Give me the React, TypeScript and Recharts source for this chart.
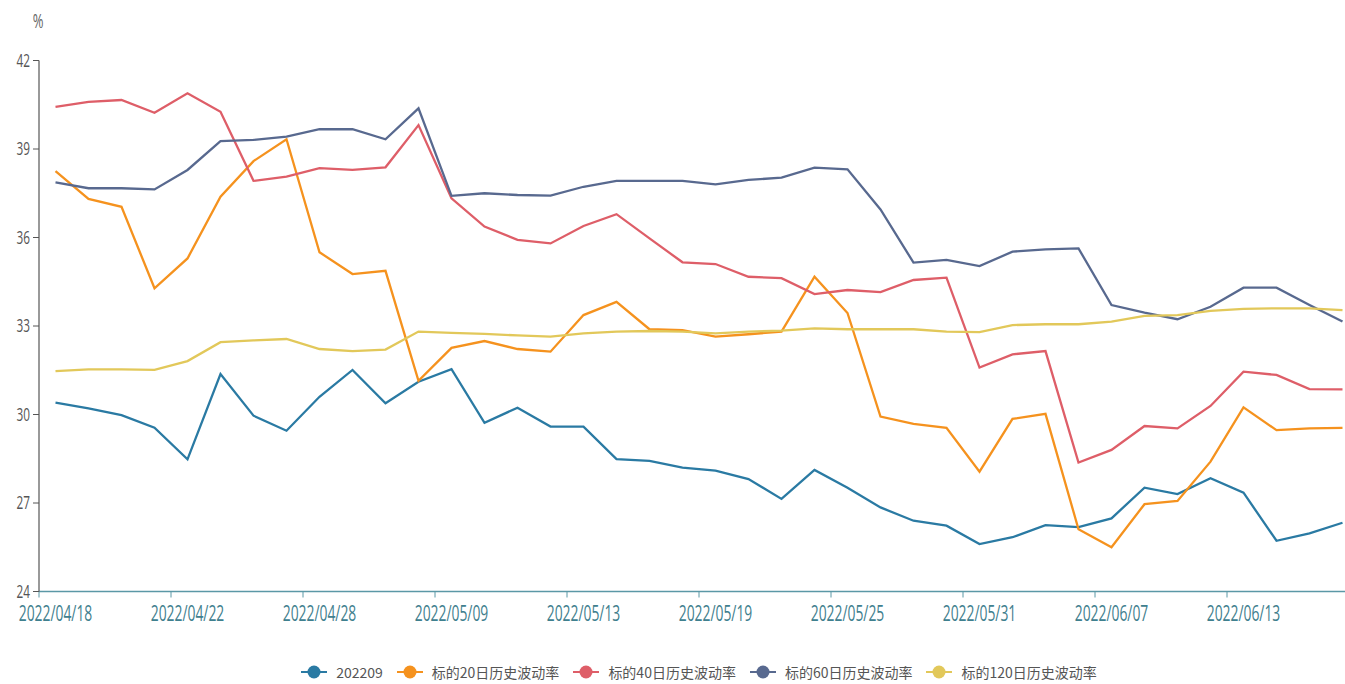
import React from 'react';
import { LineChart, Line, XAxis, YAxis } from 'recharts';

const dates = [
  '2022/04/18', '2022/04/19', '2022/04/20', '2022/04/21', '2022/04/22',
  '2022/04/25', '2022/04/26', '2022/04/27', '2022/04/28', '2022/04/29',
  '2022/05/05', '2022/05/06', '2022/05/09', '2022/05/10', '2022/05/11',
  '2022/05/12', '2022/05/13', '2022/05/16', '2022/05/17', '2022/05/18',
  '2022/05/19', '2022/05/20', '2022/05/23', '2022/05/24', '2022/05/25',
  '2022/05/26', '2022/05/27', '2022/05/30', '2022/05/31', '2022/06/01',
  '2022/06/02', '2022/06/06', '2022/06/07', '2022/06/08', '2022/06/09',
  '2022/06/10', '2022/06/13', '2022/06/14', '2022/06/15', '2022/06/16',
];

const iv202209 = [
  30.4, 30.21, 29.98, 29.55, 28.48, 31.37, 29.96, 29.45, 30.6, 31.51,
  30.38, 31.11, 31.54, 29.72, 30.23, 29.59, 29.59, 28.49, 28.43, 28.2,
  28.1, 27.81, 27.14, 28.12, 27.52, 26.85, 26.4, 26.23, 25.61, 25.84,
  26.25, 26.18, 26.48, 27.52, 27.3, 27.84, 27.35, 25.72, 25.97, 26.33,
];
const hv20 = [
  38.25, 37.31, 37.04, 34.28, 35.29, 37.38, 38.59, 39.33, 35.5, 34.76,
  34.87, 31.14, 32.26, 32.49, 32.22, 32.13, 33.37, 33.82, 32.89, 32.86,
  32.64, 32.72, 32.81, 34.67, 33.44, 29.93, 29.68, 29.55, 28.06, 29.85,
  30.02, 26.11, 25.5, 26.96, 27.07, 28.4, 30.24, 29.47, 29.53, 29.55,
];
const hv40 = [
  40.43, 40.6, 40.66, 40.23, 40.89, 40.26, 37.92, 38.06, 38.35, 38.29,
  38.38, 39.81, 37.33, 36.37, 35.92, 35.8, 36.39, 36.79, 35.97, 35.16,
  35.1, 34.67, 34.62, 34.08, 34.22, 34.15, 34.56, 34.64, 31.59, 32.04,
  32.15, 28.37, 28.8, 29.61, 29.53, 30.29, 31.45, 31.34, 30.86, 30.85,
];
const hv60 = [
  37.87, 37.67, 37.67, 37.63, 38.29, 39.27, 39.31, 39.42, 39.67, 39.67,
  39.33, 40.38, 37.41, 37.5, 37.44, 37.42, 37.72, 37.92, 37.92, 37.92,
  37.8, 37.95, 38.03, 38.37, 38.31, 36.95, 35.15, 35.24, 35.03, 35.52,
  35.6, 35.63, 33.71, 33.45, 33.23, 33.65, 34.3, 34.3, 33.71, 33.15,
];
const hv120 = [
  31.47, 31.53, 31.53, 31.51, 31.81, 32.45, 32.51, 32.56, 32.22, 32.15,
  32.2, 32.81, 32.77, 32.73, 32.68, 32.64, 32.75, 32.81, 32.83, 32.81,
  32.75, 32.81, 32.84, 32.92, 32.89, 32.89, 32.89, 32.81, 32.79, 33.03,
  33.06, 33.06, 33.15, 33.34, 33.37, 33.51, 33.58, 33.6, 33.6, 33.54,
];
const yTicks = [24, 27, 30, 33, 36, 39, 42];

const series = [
  { key: 'iv202209', name: '202209', color: '#2a7aa3', values: iv202209 },
  { key: 'hv20', name: '标的20日历史波动率', color: '#f5921e', values: hv20 },
  { key: 'hv40', name: '标的40日历史波动率', color: '#de5e68', values: hv40 },
  { key: 'hv60', name: '标的60日历史波动率', color: '#58698f', values: hv60 },
  { key: 'hv120', name: '标的120日历史波动率', color: '#e2c85a', values: hv120 },
];

const data = dates.map((date, i) => {
  const row: Record<string, string | number> = { date };
  series.forEach(s => { row[s.key] = s.values[i]; });
  return row;
});

const CHART_W = 1380;
const CHART_H = 684;
const AXIS_LEFT = 39;
const PLOT_RIGHT = 21;
const BAND = (CHART_W - AXIS_LEFT - PLOT_RIGHT) / dates.length;
const font = '"Open Sans", "Noto Sans", sans-serif';

// echarts-like category ticks: mark on band edge, label on band centre
const XTick = (props: any) => {
  const { x, y, payload } = props;
  const bx = x - BAND / 2;
  return (
    <g>
      <line x1={bx} y1={y} x2={bx} y2={y + 6} stroke="#5b98a6" strokeWidth={1} />
      <g transform={`translate(${x},${y + 29})`}>
        <text transform="scale(0.66,1)" textAnchor="middle" fill="#3f808e" fontSize={21} fontFamily={font}>
          {payload.value}
        </text>
      </g>
    </g>
  );
};

const YTick = (props: any) => {
  const { x, y, payload } = props;
  return (
    <g>
      <line x1={x - 6} y1={y} x2={x} y2={y} stroke="#555" strokeWidth={1} />
      <g transform={`translate(${x - 9},${y + 6})`}>
        <text transform="scale(0.62,1)" textAnchor="end" fill="#555" fontSize={19} fontFamily={font}>
          {payload.value}
        </text>
      </g>
    </g>
  );
};

const UnitLabel = (props: any) => {
  const { viewBox } = props;
  return (
    <g transform={`translate(${viewBox.x + viewBox.width - 1},${viewBox.y - 33})`}>
      <text transform="scale(0.65,1)" textAnchor="middle" fill="#666" fontSize={20} fontFamily={font}>%</text>
    </g>
  );
};

const LegendBar = () => (
  <div
    style={{
      position: 'absolute', left: 0, top: 662, width: 2 * (AXIS_LEFT + (CHART_W - AXIS_LEFT - PLOT_RIGHT) / 2),
      display: 'flex', justifyContent: 'center', alignItems: 'center', gap: 14,
      fontFamily: '"Noto Sans CJK SC", "Noto Sans", sans-serif', fontSize: 14, color: '#555', height: 20,
    }}
  >
    {series.map(s => (
      <div key={s.key} style={{ display: 'flex', alignItems: 'center', gap: 9 }}>
        <svg width={26} height={16}>
          <line x1={0} y1={8} x2={26} y2={8} stroke={s.color} strokeWidth={2} />
          <circle cx={13} cy={8} r={6.5} fill={s.color} />
        </svg>
        <span style={{ whiteSpace: 'nowrap' }}>{s.name}</span>
      </div>
    ))}
  </div>
);

export default function App() {
  return (
    <div style={{ position: 'absolute', left: 0, top: 0, width: 1345, height: 684, overflow: 'hidden', background: '#fff' }}>
      <LineChart
        width={CHART_W}
        height={CHART_H}
        data={data}
        margin={{ top: 60.5, right: PLOT_RIGHT, bottom: 0, left: 0 }}
      >
        <XAxis
          dataKey="date"
          scale="band"
          interval={3}
          height={92.5}
          tickSize={0}
          tickMargin={0}
          tickLine={false}
          axisLine={{ stroke: '#5b98a6', strokeWidth: 1.5 }}
          tick={<XTick />}
        />
        <YAxis
          width={AXIS_LEFT}
          domain={[24, 42]}
          ticks={yTicks}
          interval={0}
          tickSize={0}
          tickMargin={0}
          tickLine={false}
          axisLine={{ stroke: '#555', strokeWidth: 1.2 }}
          tick={<YTick />}
          label={<UnitLabel />}
        />
        {series.map(s => (
          <Line
            key={s.key}
            type="linear"
            dataKey={s.key}
            name={s.name}
            stroke={s.color}
            strokeWidth={2.3}
            dot={false}
            activeDot={false}
            isAnimationActive={false}
          />
        ))}
      </LineChart>
      <LegendBar />
    </div>
  );
}
